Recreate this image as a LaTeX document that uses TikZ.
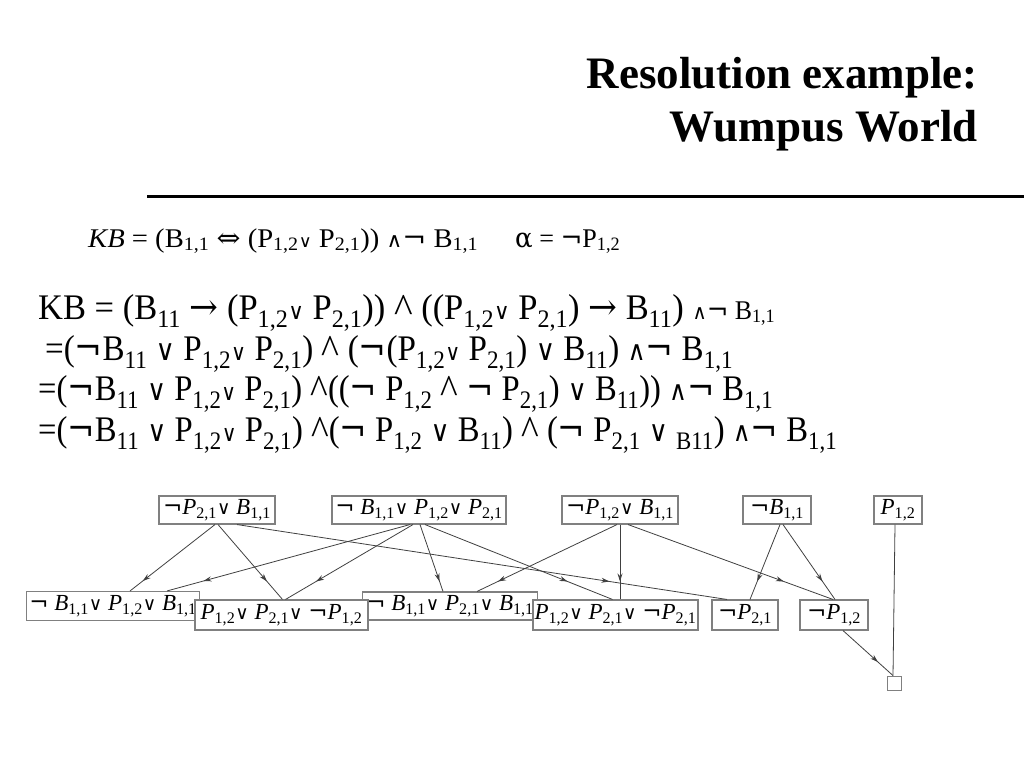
\documentclass[tikz,border=0pt]{standalone}
\usepackage{fontspec}
\setmainfont{Liberation Serif}
\newfontfamily\symf{DejaVu Serif}
\usetikzlibrary{decorations.markings,arrows.meta}
\newcommand{\sbs}[1]{\textsubscript{#1}}
\newcommand{\sv}{\scalebox{0.62}{\symf ∨}}
\newcommand{\bv}{{\symf\scalebox{0.8}{∨}}}
\newcommand{\cv}{{\symf\scalebox{0.8}{∨}}}
\newcommand{\nt}{{\symf ¬}}
\newcommand{\an}{{\symf\scalebox{0.75}{∧}}}
\newcommand{\ct}{\raisebox{-0.1em}{\scalebox{1.15}{\textasciicircum}}}
\newcommand{\ip}{\textit{P}}
\newcommand{\ib}{\textit{B}}
\newcommand{\fitw}[2]{\resizebox{#1}{\height}{#2}}
\tikzset{
  clause/.style={draw=black!50, line width=1.1pt, fill=white, inner sep=0pt,
    minimum height=28pt, font=\fontsize{23}{26}\selectfont},
  res/.style={draw=black!75, line width=0.8pt, postaction={decorate},
    decoration={markings, mark=at position #1 with {\arrow{Stealth[length=8pt,width=5pt]}}}},
  res/.default=0.76,
  plain/.style={draw=black!75, line width=0.8pt},
  bigline/.style={anchor=base west, inner sep=0pt, font=\fontsize{36}{40}\selectfont},
  kbline/.style={anchor=base west, inner sep=0pt, font=\fontsize{27}{30}\selectfont},
  title/.style={anchor=base east, inner sep=0pt, font=\fontsize{45}{50}\selectfont\bfseries}
}
\begin{document}
\begin{tikzpicture}[x=1pt,y=-1pt]
\useasboundingbox (0,0) rectangle (1024,768);
% title
\node[title] (t1) at (978,88) {Resolution example:};
\node[title] (t2) at (978,141) {Wumpus World};
\coordinate (rl) at (147,196);
\coordinate (rr) at (1024,196);
\draw[line width=3pt] (rl) -- (rr);
% KB line
\node[kbline] (kb) at (88,247)
 {\fitw{390pt}{\textit{KB} = (B\sbs{1,1} {\symf ⇔} (P\sbs{1,2}\sv{} P\sbs{2,1})) \an\nt{} B\sbs{1,1}}};
\node[kbline] (alpha) at (515,247) {\fitw{105pt}{{\symf α} = \nt P\sbs{1,2}}};
% derivation
\node[bigline] (l1) at (38,319)
 {\fitw{737pt}{KB = (B\sbs{11} {\symf →} (P\sbs{1,2}\sv{} P\sbs{2,1})) \ct{} ((P\sbs{1,2}\sv{} P\sbs{2,1}) {\symf →} B\sbs{11}) {\fontsize{27}{30}\selectfont \an\nt{} B\sbs{1,1}}}};
\node[bigline] (l2) at (45,360)
 {\fitw{688pt}{=(\nt B\sbs{11} \bv{} P\sbs{1,2}\sv{} P\sbs{2,1}) \ct{} (\nt(P\sbs{1,2}\sv{} P\sbs{2,1}) \bv{} B\sbs{11}) \an\nt{} B\sbs{1,1}}};
\node[bigline] (l3) at (38,400)
 {\fitw{735pt}{=(\nt B\sbs{11} \bv{} P\sbs{1,2}\sv{} P\sbs{2,1}) \ct((\nt{} P\sbs{1,2} \ct{} \nt{} P\sbs{2,1}) \bv{} B\sbs{11})) \an\nt{} B\sbs{1,1}}};
\node[bigline] (l4) at (38,441)
 {\fitw{799pt}{=(\nt B\sbs{11} \bv{} P\sbs{1,2}\sv{} P\sbs{2,1}) \ct(\nt{} P\sbs{1,2} \bv{} B\sbs{11}) \ct{} (\nt{} P\sbs{2,1} \bv{} \sbs{B11}) \an\nt{} B\sbs{1,1}}};
% bottom clauses (drawn in overlap order)
\node[clause, minimum width=173pt, minimum height=29pt] (B1) at (113,606) {\nt{} \ib\sbs{1,1}\cv{} \ip\sbs{1,2}\cv{} \ib\sbs{1,1}};
\node[clause, minimum width=175pt] (B3) at (450,606) {\nt{} \ib\sbs{1,1}\cv{} \ip\sbs{2,1}\cv{} \ib\sbs{1,1}};
\node[clause, minimum width=173pt, minimum height=30pt] (B2) at (281.5,615) {\ip\sbs{1,2}\cv{} \ip\sbs{2,1}\cv{} \nt\ip\sbs{1,2}};
\node[clause, minimum width=165pt, minimum height=30pt] (B4) at (615.5,615) {\ip\sbs{1,2}\cv{} \ip\sbs{2,1}\cv{} \nt\ip\sbs{2,1}};
\node[clause, minimum width=66pt, minimum height=30pt] (B5) at (745,615) {\nt\ip\sbs{2,1}};
\node[clause, minimum width=68pt, minimum height=30pt] (B6) at (834,615) {\nt\ip\sbs{1,2}};
\node[draw=black!50, line width=0.9pt, minimum width=14pt, minimum height=14pt, inner sep=0pt] (E) at (894,683) {};
% top clauses
\node[clause, minimum width=116pt] (T1) at (217,510) {\nt\ip\sbs{2,1}\cv{} \ib\sbs{1,1}};
\node[clause, minimum width=174pt] (T2) at (419,510) {\nt{} \ib\sbs{1,1}\cv{} \ip\sbs{1,2}\cv{} \ip\sbs{2,1}};
\node[clause, minimum width=116pt] (T3) at (620,510) {\nt\ip\sbs{1,2}\cv{} \ib\sbs{1,1}};
\node[clause, minimum width=68pt] (T4) at (777,510) {\nt\ib\sbs{1,1}};
\node[clause, minimum width=48pt] (T5) at (898,510) {\ip\sbs{1,2}};
% edges
\draw[res=0.85] ([xshift=-2pt]T1.south) -- ([xshift=17pt]B1.north);
\draw[res=0.76] ([xshift=1pt]T1.south) -- ([xshift=1pt]B2.north);
\draw[res=0.76] ([xshift=20pt]T1.south) -- ([xshift=-18pt]B5.north);
\draw[res=0.85] ([xshift=-9pt]T2.south) -- ([xshift=54pt]B1.north);
\draw[res=0.76] ([xshift=-6pt]T2.south) -- ([xshift=4pt]B2.north);
\draw[res=0.85] ([xshift=1pt]T2.south) -- ([xshift=-7pt]B3.north);
\draw[res=0.76] ([xshift=6pt]T2.south) -- ([xshift=-3pt]B4.north);
\draw[res=0.85] ([xshift=-3pt]T3.south) -- ([xshift=27pt]B3.north);
\draw[res=0.76] (T3.south) -- ([xshift=4.5pt]B4.north);
\draw[res=0.76] ([xshift=8pt]T3.south) -- ([xshift=-1pt]B6.north);
\draw[res=0.76] ([xshift=3pt]T4.south) -- ([xshift=5pt]B5.north);
\draw[res=0.76] ([xshift=6pt]T4.south) -- ([xshift=1pt]B6.north);
\draw[plain] ([xshift=-3pt]T5.south) -- ([xshift=-1pt]E.north);
\draw[res=0.7] ([xshift=9pt]B6.south) -- ([xshift=-1pt]E.north);
\end{tikzpicture}
\end{document}
